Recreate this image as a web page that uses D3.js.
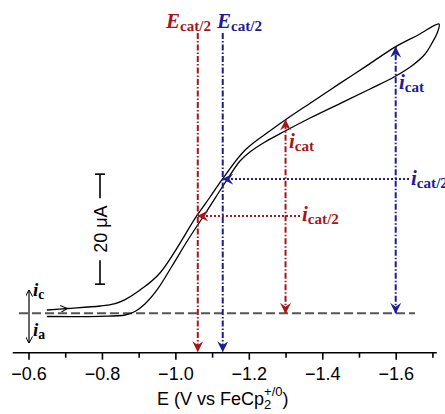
<!doctype html>
<html>
<head>
<meta charset="utf-8">
<title>Catalytic CV</title>
<script src="https://cdn.jsdelivr.net/npm/d3@7"></script>
<style>
body { margin: 0; background: #fff; }
.axis text { font: 18px 'Liberation Sans', Arial, sans-serif; fill: #000; }
.axis line, .axis path { stroke: #000; stroke-width: 1.6; }
.lbl { font-family: 'Liberation Serif', 'Times New Roman', serif; font-weight: bold; }
.sans { font-family: 'Liberation Sans', Arial, sans-serif; }
</style>
</head>
<body>
<div id="chart"></div>
<script>
// forward sweep (cathodic), E in V vs FeCp2, i in uA
var fwdE = [-0.650, -0.705, -0.795, -0.836, -0.863, -0.904, -0.958, -1.058, -1.094, -1.128, -1.190, -1.258, -1.299, -1.367, -1.448, -1.530, -1.598, -1.661, -1.718];
var fwdI = [0.6, 0.87, 1.33, 1.78, 2.5, 4.24, 7.33, 17.7, 21.1, 24.4, 29.7, 33.2, 35.15, 38.2, 41.8, 45.4, 48.4, 50.6, 52.6];
// reverse sweep, back from the vertex
var revE = [-1.718, -1.713, -1.699, -1.680, -1.647, -1.598, -1.530, -1.448, -1.367, -1.299, -1.244, -1.203, -1.176, -1.142, -1.077, -1.034, -0.991, -0.950, -0.917, -0.890, -0.863, -0.795, -0.650];
var revI = [52.6, 50.96, 49.15, 47.15, 45.15, 43.05, 40.78, 38.13, 35.51, 33.15, 31.15, 29.33, 27.69, 24.42, 17.69, 13.33, 8.6, 4.24, 1.69, 0.33, -0.31, -0.55, -0.58];

// annotations: [red, blue]
var ecatHalf = [-1.061, -1.129];
var icatHalf = [17.7, 24.4];
var icatE = [-1.30, -1.60];
var icat = [35.15, 48.4];
var annColors = ["#a3171c", "#1c1c93"];

var majorTicks = [-0.6, -0.8, -1.0, -1.2, -1.4, -1.6];
var minorTicks = [-0.7, -0.9, -1.1, -1.3, -1.5, -1.7];
var axisExtent = [-0.557, -1.712];
var scaleBar = [5.3, 25.3]; // 20 uA

var W = 445, H = 414;
var svg = d3.select("#chart").append("svg").attr("width", W).attr("height", H);

var x = d3.scaleLinear().domain([-0.6, -1.6]).range([28.5, 395.7]);
var y = d3.scaleLinear().domain([0, 20]).range([313.3, 203.3]);
var axisY = 352.7;

var defs = svg.append("defs");
function marker(id, color) {
  defs.append("marker").attr("id", id)
    .attr("viewBox", "0 0 10 10").attr("refX", 9.5).attr("refY", 5)
    .attr("markerWidth", 11).attr("markerHeight", 11)
    .attr("markerUnits", "userSpaceOnUse")
    .attr("orient", "auto-start-reverse")
    .append("path").attr("d", "M0,0 L10,5 L0,10 L3.5,5 Z").attr("fill", color);
}
marker("arR", annColors[0]);
marker("arB", annColors[1]);
defs.append("marker").attr("id", "arK")
  .attr("viewBox", "0 0 10 10").attr("refX", 9.5).attr("refY", 5)
  .attr("markerWidth", 7).attr("markerHeight", 7)
  .attr("markerUnits", "userSpaceOnUse").attr("orient", "auto-start-reverse")
  .append("path").attr("d", "M0,0 L10,5 L0,10").attr("fill", "none").attr("stroke", "#000").attr("stroke-width", 1.4);

// x axis
var gx = svg.append("g").attr("class", "axis").attr("transform", "translate(0," + axisY + ")");
gx.append("line").attr("x1", x(axisExtent[0])).attr("x2", x(axisExtent[1])).attr("stroke-width", 2);
gx.append("g").call(d3.axisBottom(x).tickValues(majorTicks).tickSize(7).tickPadding(7.5).tickFormat(d3.format(".1f")))
  .call(function(g) { g.select(".domain").remove(); });
gx.append("g").call(d3.axisBottom(x).tickValues(minorTicks).tickSize(5).tickFormat(""))
  .call(function(g) { g.select(".domain").remove(); });

var title = svg.append("text").attr("class", "sans").attr("x", 157).attr("y", 405).attr("font-size", 18);
title.append("tspan").text("E (V vs FeCp");
title.append("tspan").attr("font-size", 13).attr("dy", 4).text("2");
title.append("tspan").attr("font-size", 13).attr("dx", -7.2).attr("dy", -13).text("+/0");
title.append("tspan").attr("dy", 9).text(")");

// zero line
svg.append("line").attr("x1", 19).attr("x2", 415).attr("y1", y(0)).attr("y2", y(0))
  .attr("stroke", "#555").attr("stroke-width", 2).attr("stroke-dasharray", "9,4");

// CV
var line = d3.line().x(function(d) { return x(d[0]); }).y(function(d) { return y(d[1]); }).curve(d3.curveCatmullRom.alpha(0.5));
var fwd = fwdE.map(function(e, i) { return [e, fwdI[i]]; });
var rev = revE.map(function(e, i) { return [e, revI[i]]; });
svg.append("path").attr("d", line(fwd.concat(rev.slice(1)))).attr("fill", "none").attr("stroke", "#000").attr("stroke-width", 1.3);

// sweep direction arrow
svg.append("line").attr("x1", x(-0.68)).attr("y1", y(0.75)).attr("x2", x(-0.705)).attr("y2", y(0.87))
  .attr("stroke", "none").attr("marker-end", "url(#arK)");

// annotations
var mk = ["url(#arR)", "url(#arB)"];
[0, 1].forEach(function(k) {
  var c = annColors[k];
  // E_cat/2 vertical
  svg.append("line").attr("x1", x(ecatHalf[k])).attr("x2", x(ecatHalf[k])).attr("y1", 33).attr("y2", axisY - 1)
    .attr("stroke", c).attr("stroke-width", 2).attr("stroke-dasharray", "6,2,1.5,2").attr("marker-end", mk[k]);
  // i_cat double arrow
  svg.append("line").attr("x1", x(icatE[k])).attr("x2", x(icatE[k])).attr("y1", y(0)).attr("y2", y(icat[k]))
    .attr("stroke", c).attr("stroke-width", 2).attr("stroke-dasharray", "6,2,1.5,2")
    .attr("marker-start", mk[k]).attr("marker-end", mk[k]);
});
// i_cat/2 horizontals
svg.append("line").attr("x1", 300).attr("x2", x(ecatHalf[0])).attr("y1", y(icatHalf[0])).attr("y2", y(icatHalf[0]))
  .attr("stroke", annColors[0]).attr("stroke-width", 2).attr("stroke-dasharray", "2,2").attr("marker-end", mk[0]);
svg.append("line").attr("x1", 409).attr("x2", x(ecatHalf[1])).attr("y1", y(icatHalf[1])).attr("y2", y(icatHalf[1]))
  .attr("stroke", annColors[1]).attr("stroke-width", 2).attr("stroke-dasharray", "2,2").attr("marker-end", mk[1]);

function label(px, py, main, sub, color, size) {
  var t = svg.append("text").attr("class", "lbl").attr("x", px).attr("y", py).attr("fill", color);
  t.append("tspan").attr("font-style", "italic").attr("font-size", size).text(main);
  t.append("tspan").attr("font-size", size * 0.72).attr("dy", 3).text(sub);
}
label(166, 28, "E", "cat/2", annColors[0], 21);
label(217, 28, "E", "cat/2", annColors[1], 21);
label(289, 148, "i", "cat", annColors[0], 21);
label(399, 89, "i", "cat", annColors[1], 21);
label(302, 221, "i", "cat/2", annColors[0], 21);
label(411, 185, "i", "cat/2", annColors[1], 21);
label(33, 296, "i", "c", "#000", 19);
label(33, 336, "i", "a", "#000", 19);

// ic / ia double arrow
svg.append("line").attr("x1", 29).attr("x2", 29).attr("y1", 290).attr("y2", 343)
  .attr("stroke", "#000").attr("stroke-width", 1.2)
  .attr("marker-start", "url(#arK)").attr("marker-end", "url(#arK)");

// scale bar
var sbx = 100, sbTop = y(scaleBar[1]), sbBot = y(scaleBar[0]);
var sb = svg.append("g").attr("stroke", "#000").attr("stroke-width", 1.6);
sb.append("line").attr("x1", sbx).attr("x2", sbx).attr("y1", sbTop).attr("y2", sbTop + 24);
sb.append("line").attr("x1", sbx).attr("x2", sbx).attr("y1", sbBot - 24).attr("y2", sbBot);
sb.append("line").attr("x1", sbx - 5).attr("x2", sbx + 5).attr("y1", sbTop).attr("y2", sbTop);
sb.append("line").attr("x1", sbx - 5).attr("x2", sbx + 5).attr("y1", sbBot).attr("y2", sbBot);
svg.append("text").attr("class", "sans").attr("font-size", 18)
  .attr("transform", "translate(" + (sbx + 6.5) + "," + ((sbTop + sbBot) / 2) + ") rotate(-90)")
  .attr("text-anchor", "middle").text("20 μA");
</script>
</body>
</html>
